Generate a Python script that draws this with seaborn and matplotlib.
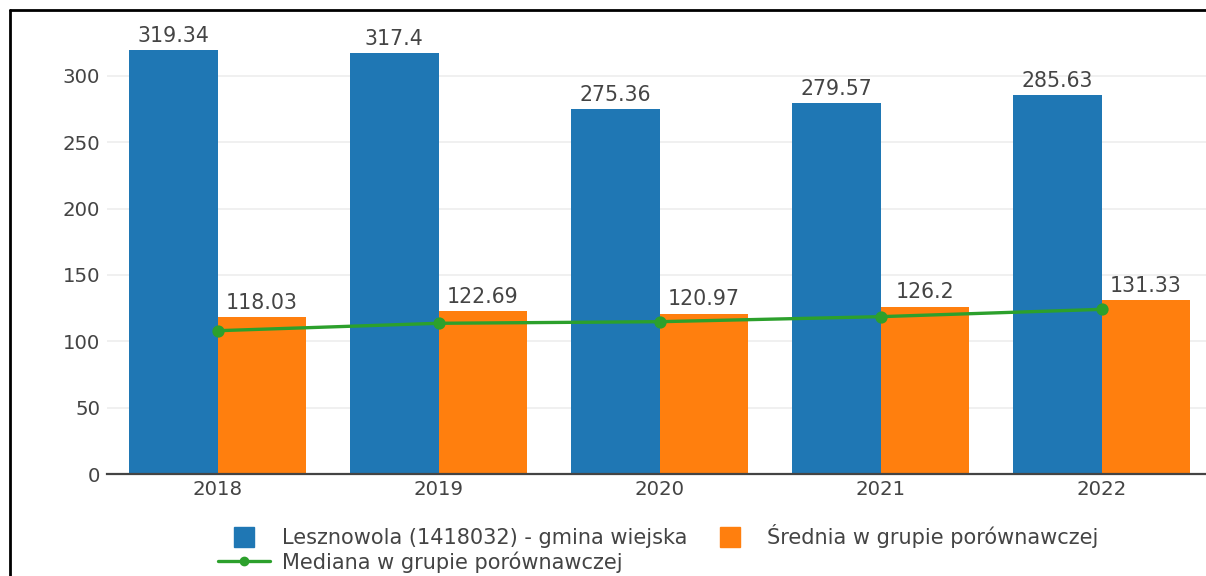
import matplotlib
matplotlib.use('Agg')
import matplotlib.pyplot as plt
from matplotlib.lines import Line2D
import seaborn as sns
import pandas as pd

years = ['2018', '2019', '2020', '2021', '2022']
gmina = [319.34, 317.4, 275.36, 279.57, 285.63]
srednia = [118.03, 122.69, 120.97, 126.2, 131.33]
mediana = [108.0, 113.6, 114.8, 118.6, 124.1]
yticks = [0, 50, 100, 150, 200, 250, 300]

name_g = 'Lesznowola (1418032) - gmina wiejska'
name_s = 'Średnia w grupie porównawczej'
name_m = 'Mediana w grupie porównawczej'

blue = '#1f77b4'
orange = '#ff7f0e'
green = '#2ca02c'
txt = '#444444'

df = pd.DataFrame({
    'rok': years * 2,
    'wartosc': gmina + srednia,
    'seria': [name_g] * len(years) + [name_s] * len(years),
})

sns.set_style('white')
plt.rcParams['font.family'] = ['DejaVu Sans']

W, H = 1206, 576
fig = plt.figure(figsize=(W / 100, H / 100), dpi=100)
# plot area: x from 107 px, 221 px per category; y zero at 474 px, 1.3267 px per unit
ytop = 340
ax = fig.add_axes([107 / W, (H - 474) / H, 1105 / W, ytop * 1.3267 / H])

sns.barplot(data=df, x='rok', y='wartosc', hue='seria', palette=[blue, orange],
            width=0.8, saturation=1, linewidth=0, ax=ax, legend=False, zorder=2)
sns.pointplot(x=years, y=mediana, color=green, markers='o', linestyles='-',
              markersize=7, linewidth=2.4, ax=ax, zorder=4)

for cont in ax.containers:
    ax.bar_label(cont, labels=[f'{v:g}' for v in cont.datavalues], padding=3,
                 fontsize=14.8, color=txt, zorder=5)

ax.set_xlim(-0.5, 4.5)
ax.set_ylim(0, ytop)
ax.set_yticks(yticks)
ax.set_xlabel('')
ax.set_ylabel('')
ax.grid(axis='y', color='#eeeeee', linewidth=1.2, zorder=0)
ax.set_axisbelow(True)
for s in ['top', 'right', 'left']:
    ax.spines[s].set_visible(False)
ax.spines['bottom'].set_color(txt)
ax.spines['bottom'].set_linewidth(1.6)
ax.tick_params(axis='both', length=0, labelsize=14.2, labelcolor=txt)
ax.tick_params(axis='y', pad=5)
ax.tick_params(axis='x', pad=4)

handles = [
    Line2D([], [], linestyle='none', marker='s', markersize=15, color=blue),
    Line2D([], [], color=green, linewidth=2.4, marker='o', markersize=6),
    Line2D([], [], linestyle='none', marker='s', markersize=15, color=orange),
]
labels = [name_g, name_m, name_s]
leg = fig.legend(handles, labels, loc='upper left', bbox_to_anchor=(218 / W, 1 - 524 / H),
                 ncol=2, frameon=False, fontsize=15, handlelength=2.5, handletextpad=0.55,
                 columnspacing=0.8, labelspacing=0.15, borderpad=0, borderaxespad=0)
for t in leg.get_texts():
    t.set_color(txt)

# frame of the screenshot box
fig.add_artist(Line2D([10 / W, 10 / W], [0, 1 - 10 / H], color='black', linewidth=2,
                      transform=fig.transFigure))
fig.add_artist(Line2D([10 / W, 1], [1 - 10 / H, 1 - 10 / H], color='black', linewidth=2,
                      transform=fig.transFigure))

fig.savefig('out.png', dpi=100)
